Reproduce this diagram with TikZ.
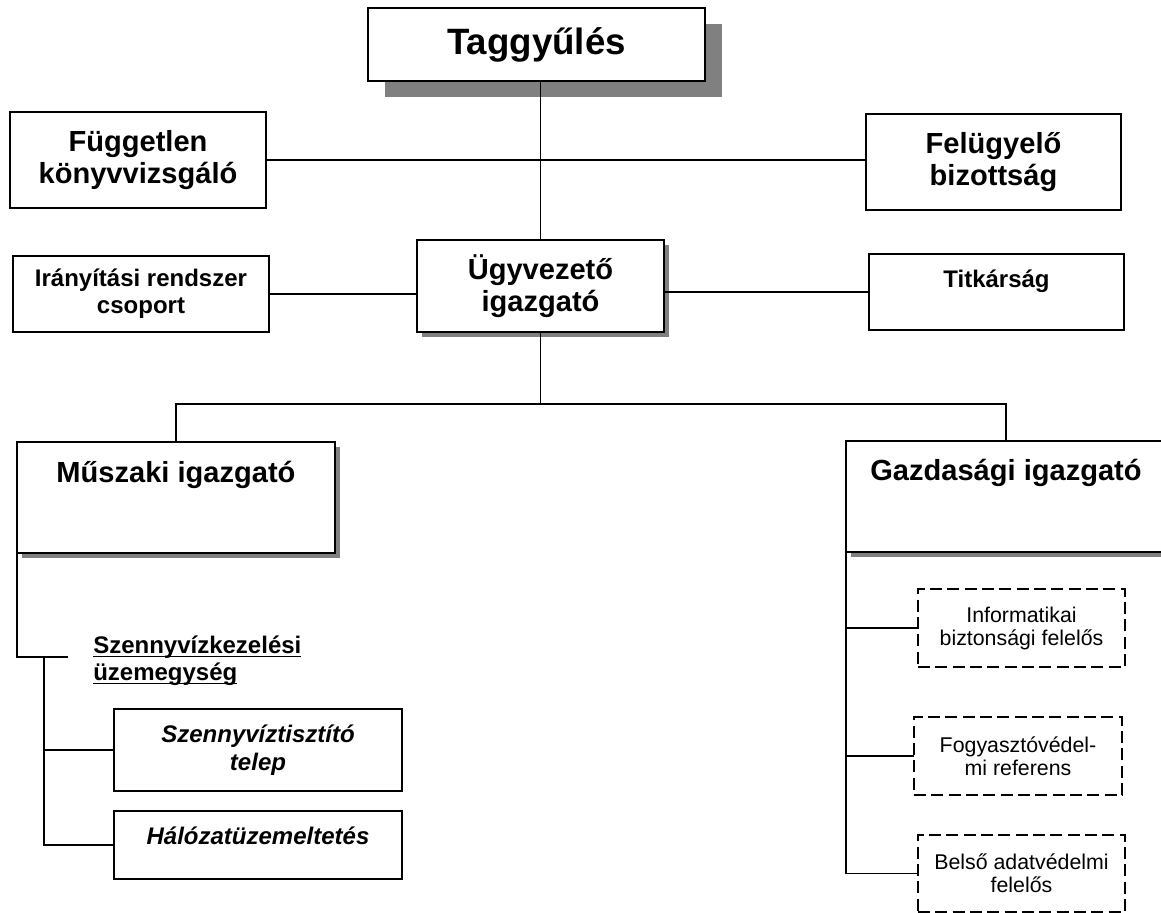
\documentclass[tikz,border=0pt]{standalone}
\usepackage{fontspec}
\setmainfont{Liberation Sans}
\usetikzlibrary{shadows}

\begin{document}
\begin{tikzpicture}[x=0.75pt,y=-0.75pt,
    box/.style={draw,fill=white,line width=1.6pt,inner sep=0pt,outer sep=0pt,align=center,anchor=north west},
    dashbox/.style={draw,fill=white,line width=1.3pt,dash pattern=on 9pt off 4pt,inner sep=0pt,outer sep=0pt,
        align=center,anchor=north west,font=\fontsize{16pt}{17.25pt}\selectfont},
    bigshadow/.style={drop shadow={shadow xshift=12.75pt,shadow yshift=-12pt,fill=black!50,opacity=1}},
    smallshadow/.style={drop shadow={shadow xshift=3.75pt,shadow yshift=-3.75pt,fill=black!50,opacity=1}},
    hugetext/.style={font=\bfseries\fontsize{27.5pt}{32pt}\selectfont},
    bigtext/.style={font=\bfseries\fontsize{21.8pt}{24pt}\selectfont},
    midtext/.style={font=\bfseries\fontsize{18pt}{20.25pt}\selectfont},
    slanttext/.style={font=\bfseries\itshape\fontsize{18pt}{21pt}\selectfont},
    link/.style={line width=1.4pt}]
    \useasboundingbox (0,0) rectangle (1161,913);
    \clip (0,0) rectangle (1161,913);
    % top level
    \node[box,hugetext,bigshadow,minimum width=252.75pt,minimum height=54.75pt] (tag) at (368,8) {Taggyűlés};
    \node[box,bigtext,minimum width=192pt,minimum height=72pt] (fugg) at (10,112) {Független\\könyvvizsgáló};
    \node[box,bigtext,minimum width=191.25pt,minimum height=72pt] (felu) at (866,114) {Felügyelő\\bizottság};
    \node[box,bigtext,smallshadow,minimum width=185.25pt,minimum height=69pt] (ugy) at (417,240) {Ügyvezető\\igazgató};
    \node[box,midtext,minimum width=192pt,minimum height=57pt] (iran) at (13,256) {Irányítási rendszer\\csoport};
    \node[box,midtext,minimum width=191.25pt,text height=24.75pt,text depth=32.25pt] (titk) at (869,254) {Titkárság};
    % directors
    \node[box,bigtext,smallshadow,minimum width=238.5pt,text height=30pt,text depth=53.25pt] (musz) at (17,442) {Műszaki igazgató};
    \node[box,bigtext,smallshadow,minimum width=240pt,text height=29.25pt,text depth=54pt] (gazd) at (846,441) {Gazdasági igazgató};
    % left branch
    \node[midtext,align=left,anchor=west,inner sep=0pt] (szu) at (93,660)
        {\underline{\raisebox{0pt}[\height][0pt]{Szennyvízkezelési}}\\\underline{\raisebox{0pt}[\height][0pt]{üzemegység}}};
    \node[box,slanttext,minimum width=216pt,minimum height=61.5pt] (szen) at (114,709) {Szennyvíztisztító\\telep};
    \node[box,slanttext,minimum width=216pt,text height=24.75pt,text depth=26.25pt] (halo) at (114,811) {Hálózatüzemeltetés};
    % right branch
    \node[dashbox,minimum width=155.25pt,minimum height=58.5pt] (info) at (918,589) {Informatikai\\biztonsági felelős};
    \node[dashbox,minimum width=156pt,minimum height=58.5pt] (fogy) at (914,717) {Fogyasztóvédel-\\mi referens};
    \node[dashbox,minimum width=155.25pt,minimum height=57.75pt] (bels) at (918,835) {Belső adatvédelmi\\felelős};
    % connectors
    \coordinate (split) at (0,404);
    \coordinate (szuend) at (68,657);
    \coordinate (szusplit) at (44,657);
    \draw[link] (tag.south -| ugy.north) -- (ugy.north);
    \draw[link] (fugg.east) -- (fugg.east -| felu.west);
    \draw[link] (iran.east) -- (iran.east -| ugy.west);
    \draw[link] (ugy.east |- titk.west) -- (titk.west);
    \draw[link] (ugy.south) -- (ugy.south |- split);
    \draw[link] (musz.north) |- (ugy.south |- split) -| (gazd.north);
    \draw[link] (musz.south west) |- (szuend);
    \draw[link] (szusplit) |- (halo.west);
    \draw[link] (szusplit |- szen.west) -- (szen.west);
    \draw[link] (gazd.south west) |- (bels.west);
    \draw[link] (gazd.south west |- info.west) -- (info.west);
    \draw[link] (gazd.south west |- fogy.west) -- (fogy.west);
\end{tikzpicture}
\end{document}
